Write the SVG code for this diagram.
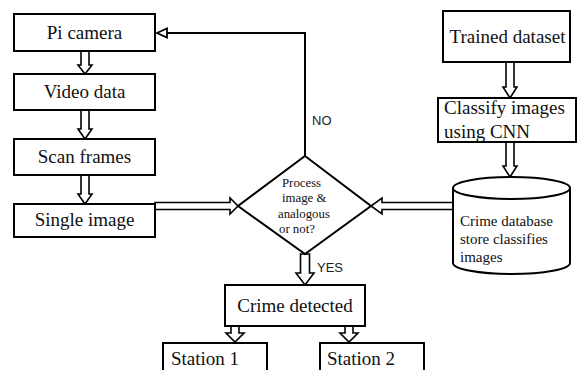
<svg xmlns="http://www.w3.org/2000/svg" width="577" height="370" viewBox="0 0 577 370">
<style>
.box{fill:#fff;stroke:#000;stroke-width:2}
.arr{fill:#fff;stroke:#000;stroke-width:1.6;stroke-linejoin:miter}
.line{fill:none;stroke:#000;stroke-width:2}
.t{font-family:'Liberation Serif','DejaVu Serif',serif;font-size:19px;fill:#111}
.tc{text-anchor:middle}
.s{font-family:'Liberation Serif','DejaVu Serif',serif;font-size:15px;fill:#111}
.d{font-family:'Liberation Serif','DejaVu Serif',serif;font-size:12.8px;fill:#111}
.lab{font-family:'Liberation Sans',Arial,sans-serif;font-size:13px;fill:#222}
</style>
<rect width="577" height="370" fill="#fff"/>
<g id="connectors">
  <polyline class="line" points="305,156 305,33 160,33"/>
  <polygon points="157,33 167,28.5 167,37.5" fill="#fff" stroke="#000" stroke-width="1.8"/>
  <polygon class="arr" points="81,51 89,51 89,65 92,65 85,74 78,65 81,65"/>
  <polygon class="arr" points="81,110 89,110 89,129 92,129 85,139 78,129 81,129"/>
  <polygon class="arr" points="81,175 89,175 89,194 92,194 85,204 78,194 81,194"/>
  <polygon class="arr" points="155,202.5 230,202.5 230,198 238,206 230,214 230,209.5 155,209.5"/>
  <polygon class="arr" points="506,62 514,62 514,87 517,87 510,98 503,87 506,87"/>
  <polygon class="arr" points="506,142 514,142 514,166 517,166 510,177 503,166 506,166"/>
  <polygon class="arr" points="453,202.5 382,202.5 382,198 371,206 382,214 382,209.5 453,209.5"/>
  <polygon class="arr" points="300.5,254 309.5,254 309.5,273 314,273 305,285 296,273 300.5,273"/>
  <polygon class="arr" points="231,326 239,326 239,333 244,333 235,342 226,333 231,333"/>
  <polygon class="arr" points="345,326 353,326 353,333 358,333 349,342 340,333 345,333"/>
  <text class="lab" x="312" y="125">NO</text>
  <text class="lab" x="317" y="272">YES</text>
</g>
<g id="pi-camera">
  <rect class="box" x="14" y="14" width="141" height="37"/>
  <text class="t tc" x="84.5" y="39" font-family="Liberation Serif, serif">Pi camera</text>
</g>
<g id="video-data">
  <rect class="box" x="14" y="74" width="141" height="36"/>
  <text class="t tc" x="84.5" y="98">Video data</text>
</g>
<g id="scan-frames">
  <rect class="box" x="14" y="139" width="141" height="36"/>
  <text class="t tc" x="84.5" y="163">Scan frames</text>
</g>
<g id="single-image">
  <rect class="box" x="14" y="204" width="141" height="33"/>
  <text class="t tc" x="84.5" y="226">Single image</text>
</g>
<g id="decision">
  <polygon class="box" points="305,156 371,206 305,254 238,206"/>
  <text class="d" x="282" y="187">Process</text>
  <text class="d" x="282" y="202">image &amp;</text>
  <text class="d" x="278" y="218">analogous</text>
  <text class="d" x="279" y="233">or not?</text>
</g>
<g id="trained-dataset">
  <rect class="box" x="443" y="11" width="127" height="51"/>
  <text class="t tc" x="507.5" y="43">Trained dataset</text>
</g>
<g id="classify">
  <rect class="box" x="438" y="98" width="138" height="44"/>
  <text class="t" x="444" y="114">Classify images</text>
  <text class="t" x="444" y="138">using CNN</text>
</g>
<g id="crime-database">
  <path class="box" d="M453,188 A58.5,11 0 0,1 570,188 L570,263 A58.5,11 0 0,1 453,263 Z"/>
  <path class="line" d="M453,188 A58.5,11 0 0,0 570,188"/>
  <text class="s" x="460" y="226">Crime database</text>
  <text class="s" x="460" y="244">store classifies</text>
  <text class="s" x="460" y="262">images</text>
</g>
<g id="crime-detected">
  <rect class="box" x="225" y="285" width="140" height="41"/>
  <text class="t tc" x="295" y="312">Crime detected</text>
</g>
<g id="station-1">
  <rect class="box" x="163" y="343" width="104" height="40"/>
  <text class="t" x="171" y="365">Station 1</text>
</g>
<g id="station-2">
  <rect class="box" x="320" y="343" width="104" height="40"/>
  <text class="t" x="327" y="365">Station 2</text>
</g>
</svg>
